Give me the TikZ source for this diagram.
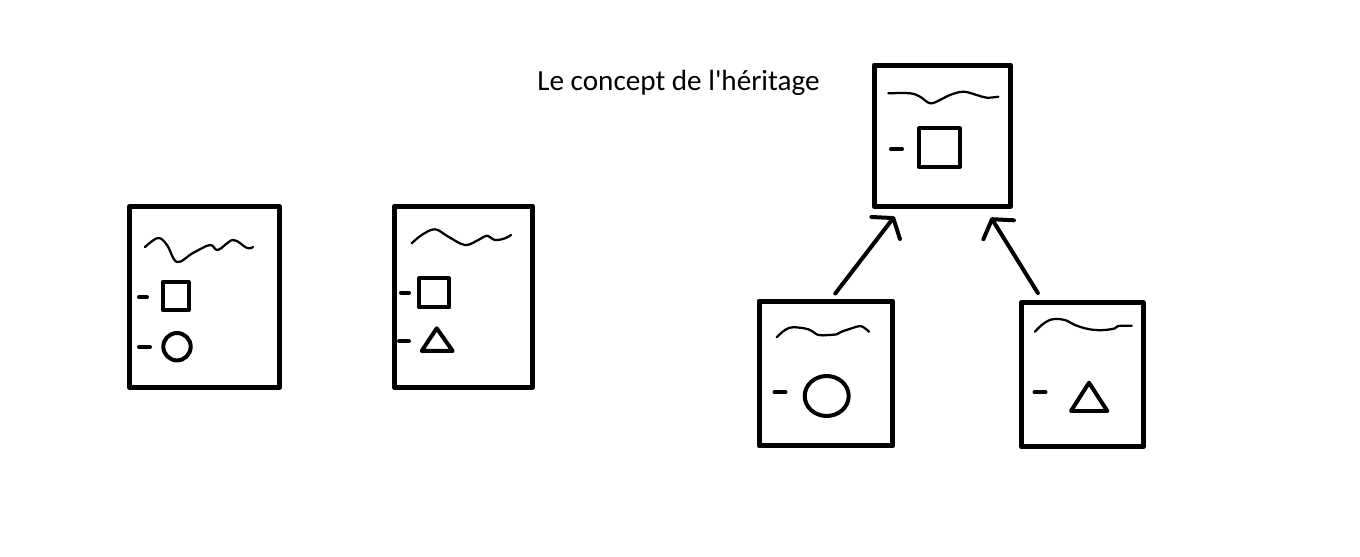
\documentclass[tikz,border=0pt]{standalone}
\usepackage{fontspec}
\newfontfamily\titlefont{Carlito}
\usetikzlibrary{arrows.meta}
\begin{document}
\begin{tikzpicture}[line cap=round,line join=round,x=0.02cm,y=-0.02cm,
  classbox/.style={draw,line width=0.1cm,inner sep=0pt},
  wave/.style={line width=0.045cm},
  shp/.style={line width=0.08cm},
  tick/.style={line width=0.08cm},
  inherit/.style={line width=0.08cm,-{Straight Barb[round,length=0.25cm,width=0.72cm]}}]
\useasboundingbox (0,0) rectangle (1360,557);
\node[anchor=base west,inner sep=0pt,font=\titlefont\fontsize{16.6}{19}\selectfont] (title) at (537,91) {Le concept de l'héritage};
\node[classbox,minimum width=3.0cm,minimum height=3.62cm] (first) at (204.5,297) {};
\draw[wave] plot[smooth,tension=0.6] coordinates {(145,247) (158,238) (167,245) (177,262) (193,253) (210,245) (218,250) (233,240) (247,248) (253,247)};
\draw[tick] (139,297)--(147,297);
\draw[shp] (162.5,282.5) rectangle (189,310);
\draw[tick] (139,347)--(150,347);
\draw[shp] (177,346.7) circle (13.7);
\node[classbox,minimum width=2.76cm,minimum height=3.63cm] (second) at (463.5,296.75) {};
\draw[wave] plot[smooth,tension=0.6] coordinates {(411.7,243.3) (421.7,235) (435,229.3) (448.3,236.7) (465,245) (478.3,240) (486.7,235.7) (495,240) (505,238.3) (511,235)};
\draw[tick] (401,292.7)--(409,292.7);
\draw[shp] (419,278.5) rectangle (449,307.5);
\draw[tick] (399,341)--(409,341);
\draw[shp] (436.7,328.3)--(421.7,351)--(452.7,351)--cycle;
\node[classbox,minimum width=2.73cm,minimum height=2.83cm] (parent) at (942.25,135.75) {};
\draw[wave] plot[smooth,tension=0.6] coordinates {(888.3,93.3) (910,93.3) (920,96.7) (930,103.3) (940,100) (950,95) (963.3,91.7) (976.7,95) (986.7,97.7) (998.3,96.7)};
\draw[tick] (891,149.3)--(902,149.3);
\draw[shp] (919,128.5) rectangle (960,166.8);
\node[classbox,minimum width=2.67cm,minimum height=2.9cm] (circchild) at (825.75,373.5) {};
\draw[wave] plot[smooth,tension=0.6] coordinates {(776.7,337.3) (785,330) (793.3,327.3) (808.3,329.3) (818.3,335) (828.3,335) (836.7,334.3) (841.7,331.7) (851.7,328.3) (860,326) (865,328.3) (869,331.7)};
\draw[tick] (774.5,392.3)--(785.5,392.3);
\draw[shp] (826.7,396) ellipse (22 and 20);
\node[classbox,minimum width=2.43cm,minimum height=2.89cm] (trichild) at (1082.35,374.75) {};
\draw[wave] plot[smooth,tension=0.6] coordinates {(1035,331.7) (1041.7,325) (1048.3,320.7) (1055,319) (1065,320) (1075,325) (1085,328.3) (1095,330) (1105,330) (1115,328.3) (1118.3,326) (1131.7,325.7)};
\draw[tick] (1034.5,392.3)--(1045.5,392.3);
\draw[shp] (1089,382.7)--(1071,411)--(1107.3,411)--cycle;
\draw[inherit] ([xshift=0.19cm,yshift=0.1cm]circchild.north) -- ([xshift=0.46cm,yshift=-0.15cm]parent.south west);
\draw[inherit] ([xshift=-0.89cm,yshift=0.14cm]trichild.north) -- ([xshift=-0.44cm,yshift=-0.17cm]parent.south east);
\end{tikzpicture}
\end{document}
